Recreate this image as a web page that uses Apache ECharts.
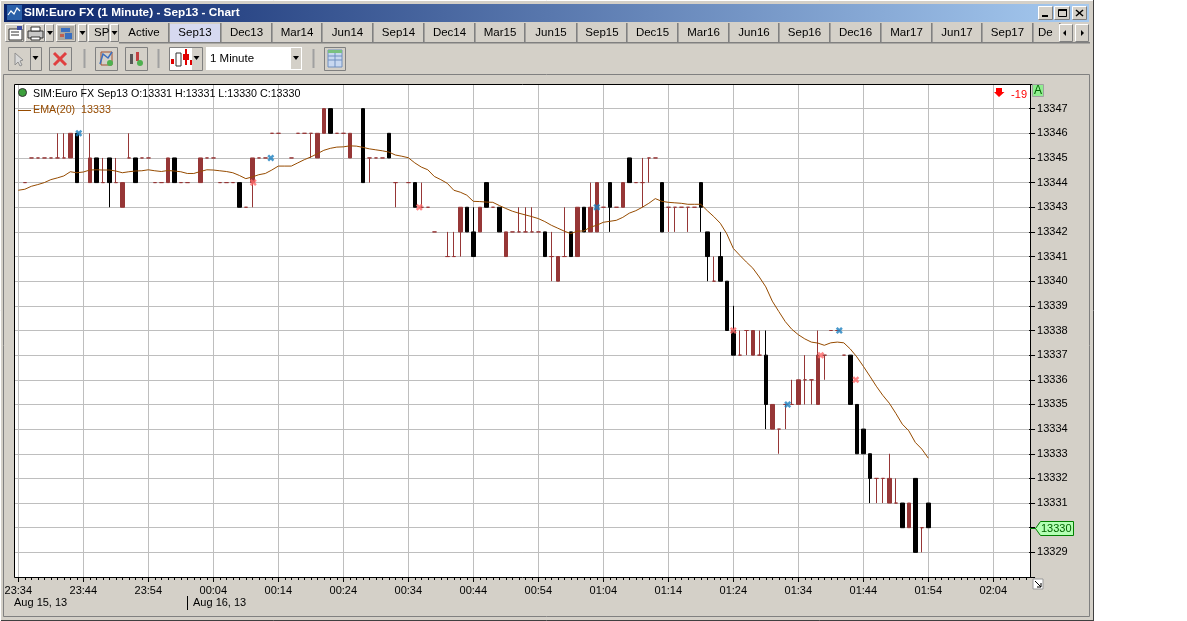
<!DOCTYPE html>
<html><head><meta charset="utf-8">
<style>html,body{margin:0;padding:0;background:#fff}#c{width:1187px;height:621px}</style>
<script src="https://cdn.jsdelivr.net/npm/echarts@6/dist/echarts.min.js"></script>
</head><body><div id="c"></div>
<script>
var timeLabels=['23:34','23:44','23:54','00:04','00:14','00:24','00:34','00:44','00:54','01:04','01:14','01:24','01:34','01:44','01:54','02:04'];
var priceBase=13300;
// per minute bars, index 0 = 23:34; null = no bar. offsets from priceBase
var opens=[null,44,45,45,45,45,45,45,45,46,null,44,45,44,45,44,43,45,45,45,45,44,44,44,45,44,44,null,44,45,45,44,44,44,44,43,44,45,45,46,46,null,45,46,46,46,45,46,47,46,46,45,null,47,45,45,45,46,44,null,44,44,43,43,42,null,41,41,42,43,42,42,44,43,43,41,42,42,42,42,42,42,41,40,41,42,41,43,42,42,43,44,43,43,45,44,44,45,45,44,43,43,43,43,43,44,42,40,41,40,38,37,38,37,37,37,34,34,35,35,35,36,36,35,37,38,38,37,37,35,34,33,32,32,31,31,31,30,32,30,31];
var closes=[null,44,45,45,45,45,45,45,46,44,null,45,44,44,44,44,44,45,44,45,45,44,44,45,44,44,44,null,45,45,45,44,44,44,43,43,45,45,45,46,46,null,45,46,46,46,46,47,46,46,46,46,null,44,45,45,45,45,44,null,44,43,43,43,42,null,41,41,43,42,41,43,43,43,42,42,42,42,42,42,42,41,41,41,41,41,43,42,43,44,43,43,43,44,44,44,44,45,45,42,43,43,43,43,43,43,41,40,40,38,37,37,38,38,37,35,35,34,35,35,36,36,36,37,37,38,38,37,35,33,33,32,32,32,32,31,30,31,29,30,30];
var lows=[null,44,45,45,45,45,45,45,45,44,null,44,44,44,43,44,43,45,44,45,45,44,44,44,44,44,44,null,44,45,45,44,44,44,43,43,43,45,45,46,46,null,45,46,46,45,45,46,46,46,46,45,null,44,44,45,45,45,43,null,44,43,43,43,42,null,41,41,41,42,41,42,43,43,42,41,42,42,42,42,42,41,40,40,41,41,41,42,42,42,43,42,43,43,44,44,43,44,45,42,42,42,43,42,43,42,40,40,40,38,37,37,37,37,37,34,34,33,34,35,35,35,35,35,36,38,38,37,35,33,33,31,31,31,31,31,30,30,29,29,30];
var highs=[null,44,45,45,45,45,46,46,46,46,null,46,45,45,45,45,44,46,45,45,45,44,44,45,45,44,44,null,45,45,45,44,44,44,44,43,45,45,45,46,46,null,45,46,46,46,46,47,47,46,46,46,null,47,45,45,45,46,44,null,44,44,44,43,42,null,42,42,43,43,43,43,44,43,43,42,42,43,43,43,42,42,42,41,43,42,43,43,44,44,43,44,43,44,45,44,45,45,45,44,43,43,43,43,43,44,42,41,42,40,39,38,38,38,38,38,35,34,35,36,36,37,36,38,37,38,38,37,37,35,34,33,32,32,33,32,31,31,32,30,31];
var emaValues=[13343.69,13343.73,13343.85,13343.92,13344.00,13344.12,13344.19,13344.27,13344.44,13344.40,13344.43,13344.51,13344.52,13344.51,13344.51,13344.47,13344.40,13344.44,13344.47,13344.48,13344.52,13344.48,13344.45,13344.49,13344.47,13344.44,13344.37,13344.37,13344.45,13344.52,13344.51,13344.48,13344.45,13344.40,13344.29,13344.16,13344.23,13344.32,13344.37,13344.51,13344.67,13344.67,13344.67,13344.80,13344.93,13345.04,13345.17,13345.31,13345.39,13345.44,13345.45,13345.49,13345.48,13345.43,13345.37,13345.33,13345.29,13345.24,13345.12,13345.07,13345.01,13344.80,13344.63,13344.52,13344.25,13344.12,13343.97,13343.69,13343.61,13343.49,13343.24,13343.23,13343.21,13343.20,13343.07,13342.95,13342.84,13342.76,13342.69,13342.62,13342.54,13342.42,13342.27,13342.15,13342.03,13341.93,13342.03,13342.04,13342.19,13342.27,13342.39,13342.43,13342.47,13342.59,13342.76,13342.86,13343.00,13343.16,13343.35,13343.24,13343.20,13343.18,13343.16,13343.12,13343.12,13343.12,13342.86,13342.62,13342.35,13341.92,13341.33,13341.05,13340.78,13340.53,13340.17,13339.77,13339.19,13338.77,13338.36,13338.05,13337.83,13337.66,13337.53,13337.49,13337.40,13337.50,13337.53,13337.50,13337.25,13336.93,13336.55,13336.15,13335.74,13335.37,13335.05,13334.64,13334.20,13333.93,13333.46,13333.19,13332.82];
var buyMarks=[[9,13346,2],[39,13345,-1],[89,13343,0],[118,13335,2.4],[126,13338,2]];
var sellMarks=[[36,13344,1],[62,13343,-2],[110,13338,0],[123,13337,3],[129,13336,-1]];
var tabNames=['Active','Sep13','Dec13','Mar14','Jun14','Sep14','Dec14','Mar15','Jun15','Sep15','Dec15','Mar16','Jun16','Sep16','Dec16','Mar17','Jun17','Sep17','De'];

var FONT='"Liberation Sans"';
var categories=[];for(var i=0;i<156;i++)categories.push(String(i));
var ohlc=categories.map(function(c,i){
  if(i>=opens.length||opens[i]==null)return ['-','-','-','-'];
  return [priceBase+opens[i],priceBase+closes[i],priceBase+lows[i],priceBase+highs[i]];
});
var xPath='path://M1 0L3 2L5 0L7 2L5 4L7 6L5 8L3 6L1 8L-1 6L1 4L-1 2Z';
function marks(a){return a.map(function(m){return {value:[String(m[0]),m[1]],symbolOffset:[m[2],0]};});}

var g=[];
function R(x,y,w,h,fill,stroke,z){g.push({type:'rect',silent:true,z:z||1,shape:{x:x,y:y,width:w,height:h},style:{fill:fill||'transparent',stroke:stroke||null,lineWidth:stroke?1:0}});}
function T(x,y,s,o){o=o||{};g.push({type:'text',silent:true,z:o.z||3,x:x,y:y,style:{text:s,fill:o.c||'#000',font:(o.b?'bold ':'')+(o.s||11)+'px '+(o.f||FONT),textAlign:o.a||'left',textVerticalAlign:'middle'}});}
function P(pts,fill,stroke,z,lw){g.push({type:'polygon',silent:true,z:z||2,shape:{points:pts},style:{fill:fill||'transparent',stroke:stroke||null,lineWidth:lw||1}});}
function L(pts,stroke,lw,z){g.push({type:'polyline',silent:true,z:z||2,shape:{points:pts},style:{fill:null,stroke:stroke,lineWidth:lw||1}});}
function raised(x,y,w,h,fill){R(x,y,w,h,fill||'#D4D0C8');L([[x+.5,y+h-.5],[x+.5,y+.5],[x+w-.5,y+.5]],'#fff');L([[x+.5,y+h-.5],[x+w-.5,y+h-.5],[x+w-.5,y+.5]],'#808080');}
function arrowDown(cx,cy){P([[cx-3,cy-2],[cx+3,cy-2],[cx,cy+2]],'#000');}

// window frame
R(0,0,1093,621,'#D4D0C8');
L([[1093.5,0],[1093.5,621]],'#404040');L([[0,620.5],[1093,620.5]],'#404040');
L([[.5,621],[.5,.5],[1093,.5]],'#fff');
L([[3.5,74.5],[1089.5,74.5],[1089.5,616.5],[3.5,616.5],[3.5,74.5]],'#808080');
g.push({type:'rect',silent:true,z:1,shape:{x:4,y:4,width:1085,height:18},style:{fill:new echarts.graphic.LinearGradient(0,0,1,0,[{offset:0,color:'#0A246A'},{offset:1,color:'#A6CAF0'}])}});
T(24,13,'SIM:Euro FX (1 Minute) - Sep13 - Chart',{c:'#fff',b:true,s:11.8});
// title icon
R(7,5,15,15,'#2a5fa8');L([[8,15],[11,11],[14,14],[17,8],[20,11]],'#fff',1.2);
// window buttons
[1038,1054,1072].forEach(function(x,i){raised(x,6,[15,16,15][i],14);});
R(1042,15,6,2,'#000');R(1058.5,9.5,8,7,null,'#000');R(1059,9,8,2,'#000');
L([[1076,10],[1083,16]],'#000',1.5);L([[1083,10],[1076,16]],'#000',1.5);
// tab strip
raised(5,24,19,18);raised(25,24,20,18);raised(45,24,9,18);raised(56,24,20,18);raised(78,24,9,18);raised(88,24,21,18);raised(110,24,9,18);
T(94,33,'SP',{s:11.5});arrowDown(50,33);arrowDown(82.5,33);arrowDown(114.5,33);
// file icon
R(9,29,13,11,'#fff','#333');L([[11,32],[19,32]],'#333');L([[11,35],[19,35]],'#333');R(17,26,5,4,'#3a4ba0');
// printer
R(28,31,15,7,'#c8c8c8','#333');R(31,27,9,4,'#fff','#333');R(31,37,9,3,'#fff','#333');
// colour icon
R(58,26,16,14,'#a9a6a0');R(61,28,9,4,'#3a6fc0');R(65,33,7,6,'#3a6fc0');R(60,34,4,3,'#c06050');
var tabX=[120,170,222,273,323,374,425,476,526,578,628,679,730,780,831,882,933,983,1034];
var tabW=[48,50,49,48,49,49,49,48,50,48,49,49,48,49,49,49,48,49,25];
tabNames.forEach(function(n,i){
  var sel=n==='Sep13';
  R(tabX[i],24,tabW[i],18,sel?'#D6D9F0':'#D4D0C8');
  R(tabX[i]+tabW[i],23,1.6,20,'#808080');
  if(i===tabNames.length-1)T(tabX[i]+4,33,n,{s:11.5});
  else T(tabX[i]+tabW[i]/2,33,n,{a:'center',s:11.5});
});
raised(1059,24,14,18);raised(1075,24,14,18);
P([[1066,30],[1066,36],[1063,33]],'#000');P([[1081,30],[1081,36],[1084,33]],'#000');
R(119,42,971,1.4,'#808080');
// tool bar
function box(x,y,w,h,fill){R(x+.5,y+.5,w,h,fill||'#D4D0C8','#808080');}
box(8,47,22,23);box(30,47,11,23);arrowDown(35.5,58);
P([[15,53],[15,65],[18,62],[20,66],[22,65],[20,61],[23,60]],'#d8d8d8','#909090');
box(49,47,22,23);L([[54,53],[66,65]],'#e04040',3);L([[66,53],[54,65]],'#e04040',3);
R(83.5,49,2,19,'#A0A0A0');
box(95,47,22,23);L([[100,64],[103,54],[108,58],[112,52]],'#3a6fc0',1.5);R(101,52,11,13,null,'#a05030');g.push({type:'circle',silent:true,z:3,shape:{cx:110,cy:63,r:3},style:{fill:'#50b050'}});
box(125,47,22,23);R(130,54,3,10,'#555');R(136,52,3,9,'#c04040');g.push({type:'circle',silent:true,z:3,shape:{cx:140,cy:63,r:3},style:{fill:'#50b050'}});
R(157.5,49,2,19,'#A0A0A0');
box(169,47,33,23);R(170,48,22,22,'#fff');R(171,59,3,5,'#e00000');R(176,53,5,13,null,'#333');R(185,49,2,16,'#e00000');R(183,54,6,6,'#e00000');R(190,60,2,5,'#e00000');arrowDown(196.5,58);
R(206,47,96,23,'#fff');T(210,58.5,'1 Minute',{s:11.5});R(291,48,10,21,'#D4D0C8');arrowDown(296,58);
R(312.5,49,2,19,'#A0A0A0');
box(324,47,21,23);R(328,50,14,17,'#c8d8f0','#7090c0');R(328,50,14,3,'#7ac080');L([[328,56],[342,56]],'#7090c0');L([[328,60],[342,60]],'#7090c0');L([[335,53],[335,67]],'#7090c0');
// plot
R(15,84,1015,493,'#fff');
// plot border on top of the chart
R(14.5,84.5,1016,493,null,'#000',20);
// legend text
g.push({type:'circle',silent:true,z:21,shape:{cx:22.5,cy:92.5,r:4},style:{fill:'#3ca03c',stroke:'#333',lineWidth:1}});
T(33,94.5,'SIM:Euro FX Sep13 O:13331 H:13331 L:13330 C:13330',{z:21,s:10.7});
L([[18,110.5],[31,110.5]],'#964B00',1,21);
T(33,110,'EMA(20)  13333',{c:'#964B00',z:21,s:10.7});
// top right
P([[996,88],[1002,88],[1002,92],[1004.5,92],[999,97],[994,92],[996,92]],'#f00',null,21);
T(1027,94.5,'-19',{c:'#f00',a:'right',z:21});
R(1032.5,84.5,11,12,'#90EE90','#A0A0A0',21);T(1038,91,'A',{a:'center',c:'#006400',z:22,s:12});
// price flag
L([[1030,528.5],[1036,528.5]],'#008000',1,21);
P([[1035.5,528.5],[1040.5,521.5],[1073.5,521.5],[1073.5,535.5],[1040.5,535.5]],'#B4FFB4','#008000',21);
T(1041,529,'13330',{c:'#006400',z:22});
// resize corner + dates
R(1033,579,10,10,'#fff','#999',21);L([[1035,581],[1041,587],[1041,583]],'#000',1,22);L([[1041,587],[1037,587]],'#000',1,22);
T(14,603,'Aug 15, 13',{});T(193,603,'Aug 16, 13',{});L([[187.5,596],[187.5,610]],'#000');

var gridCfg={left:15.05,top:84,width:1014,height:493,show:false};
var isMajor=function(i){return i%10===0;};
var chart=echarts.init(document.getElementById('c'),null,{renderer:'canvas'});
chart.setOption({
  animation:false,backgroundColor:'#fff',
  graphic:{elements:g},
  grid:gridCfg,
  xAxis:[
    {type:'category',z:10,data:categories,position:'bottom',axisLine:{show:false},axisLabel:{show:false},splitLine:{show:false},
     axisTick:{show:true,interval:0,alignWithLabel:true,length:3,lineStyle:{color:'#000'}}},
    {type:'category',z:10,data:categories,position:'bottom',axisLine:{show:false},
     axisTick:{show:true,interval:function(i){return isMajor(i);},alignWithLabel:true,length:5,lineStyle:{color:'#000'}},
     axisLabel:{show:true,interval:function(i){return isMajor(i);},margin:8,color:'#000',fontFamily:FONT,fontSize:11,formatter:function(v,i){return timeLabels[i/10]||'';},hideOverlap:false},
     splitLine:{show:true,alignWithLabel:true,interval:function(i){return isMajor(i);},lineStyle:{color:'#BEBEBE',width:1}}}
  ],
  yAxis:{type:'value',z:10,position:'right',min:13328,max:13348,interval:1,axisLine:{show:false},
    axisTick:{show:true,length:6,lineStyle:{color:'#000'}},
    axisLabel:{show:true,margin:8,color:'#000',fontFamily:FONT,fontSize:11,formatter:function(v){return (v<=13328||v>=13348)?'':String(v);}},
    splitLine:{show:true,lineStyle:{color:'#BEBEBE',width:1}}},
  series:[
    {type:'candlestick',xAxisIndex:0,data:ohlc,barWidth:4,z:12,
     itemStyle:{color:'#963636',color0:'#000',borderColor:'#963636',borderColor0:'#000',borderColorDoji:'#963636',borderWidth:1}},
    {type:'line',xAxisIndex:0,data:emaValues,showSymbol:false,symbol:'none',z:14,lineStyle:{color:'#964B00',width:1},silent:true},
    {type:'scatter',xAxisIndex:0,data:marks(buyMarks),symbol:xPath,symbolSize:7,z:16,itemStyle:{color:'#1B7FBF'},silent:true},
    {type:'scatter',xAxisIndex:0,data:marks(sellMarks),symbol:xPath,symbolSize:7,z:16,itemStyle:{color:'#FF6A6A'},silent:true}
  ]
});
</script></body></html>
